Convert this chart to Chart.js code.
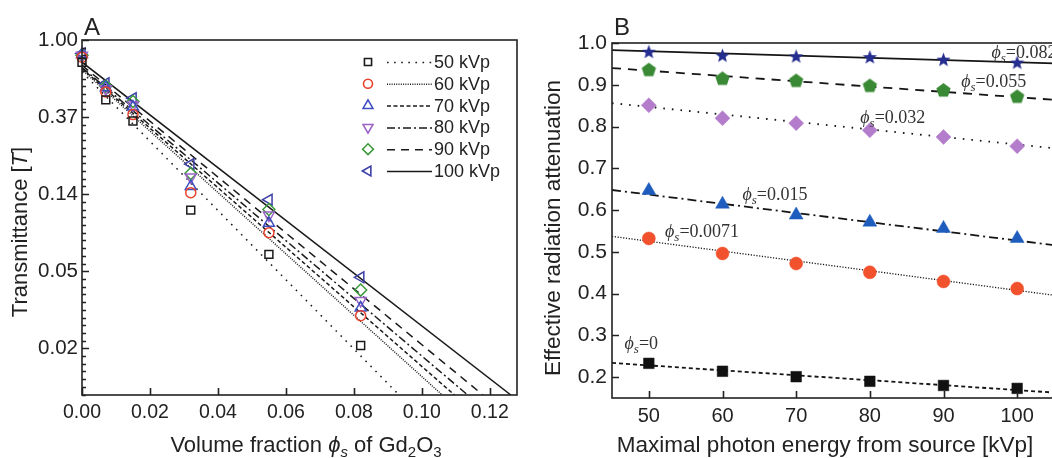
<!DOCTYPE html>
<html><head><meta charset="utf-8">
<script src="https://cdn.jsdelivr.net/npm/chart.js@4.4.1/dist/chart.umd.min.js"></script>
<style>
html,body{margin:0;padding:0;background:#fff;overflow:hidden;width:1052px;height:458px;}
#ca{position:absolute;left:0;top:0;}
#cb{position:absolute;left:525px;top:0;}
</style></head><body>
<canvas id="ca" width="530" height="458"></canvas>
<canvas id="cb" width="545" height="458"></canvas>
<script>
// ---------- Panel A data ----------
const phiA = [0, 0.007, 0.015, 0.032, 0.055, 0.082];
const kvpNames = ['50 kVp', '60 kVp', '70 kVp', '80 kVp', '90 kVp', '100 kVp'];
const tA50  = [0.75, 0.46, 0.35, 0.110, 0.062, 0.019];
const tA60  = [0.80, 0.51, 0.38, 0.138, 0.082, 0.028];
const tA70  = [0.83, 0.54, 0.42, 0.150, 0.093, 0.031];
const tA80  = [0.82, 0.53, 0.43, 0.169, 0.103, 0.034];
const tA90  = [0.82, 0.55, 0.45, 0.177, 0.111, 0.039];
const tA100 = [0.84, 0.57, 0.47, 0.200, 0.126, 0.046];
// fitted lines: T at phi = 0, and the phi at which they reach T = 0.01
const fitT0A = [0.66, 0.68, 0.69, 0.70, 0.72, 0.75];
const fitEndPhiA = [0.0933, 0.106, 0.1096, 0.1135, 0.118, 0.1262];
const fitEndTA = 0.01;
const xTicksA = [0, 0.02, 0.04, 0.06, 0.08, 0.10, 0.12];
const yTickLnA = [0, -1, -2, -3, -4];
const yTickLabelsA = ['1.00', '0.37', '0.14', '0.05', '0.02'];

// ---------- Panel B data ----------
const kvpB = [50, 60, 70, 80, 90, 100];
const phiNamesB = ['0', '0.0071', '0.015', '0.032', '0.055', '0.082'];
const attB0    = [0.233, 0.214, 0.201, 0.190, 0.180, 0.173];
const attB0071 = [0.532, 0.496, 0.472, 0.451, 0.429, 0.412];
const attB015  = [0.647, 0.614, 0.588, 0.571, 0.556, 0.532];
const attB032  = [0.851, 0.820, 0.808, 0.791, 0.775, 0.753];
const attB055  = [0.935, 0.914, 0.909, 0.897, 0.886, 0.871];
const attB082  = [0.978, 0.969, 0.967, 0.965, 0.959, 0.952];
const fitXB = [45, 105];
const fitB0    = [0.234, 0.163];
const fitB0071 = [0.537, 0.396];
const fitB015  = [0.648, 0.516];
const fitB032  = [0.856, 0.748];
const fitB055  = [0.940, 0.864];
const fitB082  = [0.983, 0.951];
const xTicksB = [50, 60, 70, 80, 90, 100];
const yTicksB = [0.2, 0.3, 0.4, 0.5, 0.6, 0.7, 0.8, 0.9, 1.0];

// ---------- helpers ----------
const SANS = "'Liberation Sans', Arial, Helvetica, sans-serif";
const SERIF = "'Liberation Serif', 'Times New Roman', 'DejaVu Serif', serif";
const INK = '#222';
Chart.defaults.font.family = SANS;
Chart.defaults.color = INK;

function richWidth(ctx, segs) {
  let w = 0;
  segs.forEach(s => { ctx.font = s.f; w += ctx.measureText(s.t).width; });
  return w;
}
function drawRich(ctx, segs, x, y) {
  segs.forEach(s => {
    ctx.font = s.f;
    ctx.fillText(s.t, x, y + (s.dy || 0));
    x += ctx.measureText(s.t).width;
  });
}
function drawRichCentered(ctx, segs, cx, cy, rot) {
  ctx.save();
  ctx.translate(cx, cy);
  if (rot) ctx.rotate(rot);
  const w = richWidth(ctx, segs);
  drawRich(ctx, segs, -w / 2, 0);
  ctx.restore();
}
function makeShape(n, outer, inner, color) {
  const s = Math.ceil(outer * 2 + 2);
  const c = document.createElement('canvas');
  c.width = s; c.height = s;
  const g = c.getContext('2d');
  g.fillStyle = color;
  g.beginPath();
  const pts = inner ? n * 2 : n;
  for (let k = 0; k < pts; k++) {
    const r = inner ? (k % 2 ? inner : outer) : outer;
    const a = -Math.PI / 2 + k * Math.PI * 2 / pts;
    g.lineTo(s / 2 + r * Math.cos(a), s / 2 + r * Math.sin(a));
  }
  g.closePath();
  g.fill();
  return c;
}

// frame + inward ticks + texts
function framePlugin(extra) {
  return {
    id: 'frame',
    afterDraw(chart) {
      const { ctx, chartArea: a, scales } = chart;
      ctx.save();
      ctx.strokeStyle = INK;
      ctx.lineWidth = 1.6;
      ctx.beginPath();
      scales.x.ticks.forEach(t => {
        const px = Math.round(scales.x.getPixelForValue(t.value)) + 0.5;
        ctx.moveTo(px, a.bottom); ctx.lineTo(px, a.bottom - 7);
      });
      scales.y.ticks.forEach(t => {
        const py = Math.round(scales.y.getPixelForValue(t.value)) + 0.5;
        ctx.moveTo(a.left, py); ctx.lineTo(a.left + 7, py);
      });
      ctx.stroke();
      ctx.strokeRect(a.left, a.top, a.right - a.left, a.bottom - a.top);
      ctx.restore();
      extra(chart, ctx, a, scales);
    }
  };
}

// ---------- Chart A ----------
const seriesA = [tA50, tA60, tA70, tA80, tA90, tA100];
const styleA = [
  { ps: 'rect', c: '#1a1a1a', r: 5.6, rot: 0 },
  { ps: 'circle', c: '#e8412c', r: 5, rot: 0 },
  { ps: 'triangle', c: '#3d4fc0', r: 6.3, rot: 0 },
  { ps: 'triangle', c: '#9b62c8', r: 6.3, rot: 180 },
  { ps: 'rectRot', c: '#3a9a3a', r: 6, rot: 0 },
  { ps: 'triangle', c: '#3b3fa6', r: 6.3, rot: 270 }
];
const dashA = [[1.6, 5.5], [1, 1.3], [4, 2.5], [8, 3, 2, 3], [8, 6], []];

const dsA = [];
seriesA.forEach((t, i) => {
  dsA.push({
    data: phiA.map((x, j) => ({ x: x, y: Math.log(t[j]) })),
    showLine: false, clip: false,
    pointStyle: styleA[i].ps, pointRotation: styleA[i].rot, pointRadius: styleA[i].r,
    pointBorderColor: styleA[i].c, pointBackgroundColor: 'rgba(0,0,0,0)', pointBorderWidth: 1.5
  });
});
seriesA.forEach((t, i) => {
  dsA.push({
    data: [{ x: 0, y: Math.log(fitT0A[i]) }, { x: fitEndPhiA[i], y: Math.log(fitEndTA) }],
    showLine: true, pointRadius: 0, borderColor: '#1a1a1a', borderWidth: 1.5,
    borderDash: dashA[i], borderCapStyle: 'butt', fill: false
  });
});

new Chart(document.getElementById('ca'), {
  type: 'scatter',
  data: { datasets: dsA },
  options: {
    responsive: false, animation: false, devicePixelRatio: 1,
    layout: { padding: { top: 40, right: 13, left: 0, bottom: 0 } },
    plugins: { legend: { display: false }, tooltip: { enabled: false } },
    scales: {
      x: {
        type: 'linear', min: 0, max: 0.128,
        afterBuildTicks: s => { s.ticks = xTicksA.map(v => ({ value: v })); },
        afterFit: s => { s.height = 63; },
        ticks: { callback: v => v.toFixed(2), font: { size: 19.5 }, color: INK, padding: 6, maxRotation: 0, autoSkip: false },
        grid: { display: false, drawTicks: false }, border: { display: false }
      },
      y: {
        type: 'linear', min: Math.log(0.01), max: 0,
        afterBuildTicks: s => { s.ticks = yTickLnA.map(v => ({ value: v })); },
        afterFit: s => { s.width = 82; },
        ticks: { callback: v => yTickLabelsA[yTickLnA.indexOf(v)], font: { size: 20.5 }, color: INK, padding: 4, autoSkip: false },
        grid: { display: false, drawTicks: false }, border: { display: false }
      }
    }
  },
  plugins: [framePlugin((chart, ctx, a, scales) => {
    // minor ticks on y
    ctx.save();
    ctx.strokeStyle = INK; ctx.lineWidth = 1.3;
    ctx.beginPath();
    for (let v = -46; v <= 0; v++) {
      if (v % 10 === 0) continue;
      const py = Math.round(scales.y.getPixelForValue(v / 10)) + 0.5;
      ctx.moveTo(a.left, py); ctx.lineTo(a.left + 4, py);
    }
    ctx.stroke();
    // legend
    const lx = 368, ly0 = 62, dy = 21.8;
    kvpNames.forEach((name, i) => {
      const y = ly0 + dy * i;
      ctx.strokeStyle = styleA[i].c; ctx.fillStyle = 'rgba(0,0,0,0)'; ctx.lineWidth = 1.6;
      Chart.helpers.drawPoint(ctx, { pointStyle: styleA[i].ps, rotation: styleA[i].rot, radius: styleA[i].r * 0.9, borderWidth: 1.6 }, lx, y);
      ctx.beginPath();
      ctx.strokeStyle = '#1a1a1a'; ctx.lineWidth = 1.5;
      ctx.setLineDash(dashA[i]);
      ctx.moveTo(387, y + 0.5); ctx.lineTo(432, y + 0.5);
      ctx.stroke();
      ctx.setLineDash([]);
      ctx.fillStyle = INK;
      ctx.font = '18px ' + SANS;
      ctx.textBaseline = 'middle';
      ctx.fillText(name, 434, y + 1);
    });
    ctx.textBaseline = 'alphabetic';
    ctx.fillStyle = INK;
    // panel letter
    ctx.font = '24px ' + SANS;
    ctx.fillText('A', 84, 35);
    // titles
    const f = '22px ' + SANS, fi = 'italic 22px ' + SANS, fs = '15px ' + SANS, fsi = 'italic 15px ' + SANS;
    ctx.textBaseline = 'middle';
    drawRichCentered(ctx, [{ t: 'Transmittance [', f: f }, { t: 'T', f: fi }, { t: ']', f: f }], 21, 232, -Math.PI / 2);
    ctx.textBaseline = 'alphabetic';
    drawRichCentered(ctx, [
      { t: 'Volume fraction ', f: f }, { t: 'ϕ', f: fi }, { t: 's', f: fsi, dy: 5 },
      { t: ' of Gd', f: f }, { t: '2', f: fs, dy: 5 }, { t: 'O', f: f }, { t: '3', f: fs, dy: 5 }
    ], 306, 452, 0);
    ctx.restore();
  })]
});

// ---------- Chart B ----------
const seriesB = [attB0, attB0071, attB015, attB032, attB055, attB082];
const fitsB = [fitB0, fitB0071, fitB015, fitB032, fitB055, fitB082];
const starImg = makeShape(5, 7.5, 3.2, '#252d8f');
const pentImg = makeShape(5, 7.5, 0, '#3a8a35');
const styleB = [
  { ps: 'rect', c: '#111111', r: 7.5 },
  { ps: 'circle', c: '#f2512e', r: 6.5 },
  { ps: 'triangle', c: '#1e5cbd', r: 8 },
  { ps: 'rectRot', c: '#b47dcc', r: 7.5 },
  { ps: pentImg, c: '#3a8a35', r: 7 },
  { ps: starImg, c: '#252d8f', r: 7 }
];
const dashB = [[4, 3], [1.2, 1.6], [9, 4, 2, 4], [1.6, 7], [9, 7], []];
const lwB = [1.8, 1.3, 1.8, 1.8, 1.8, 1.8];

const dsB = [];
seriesB.forEach((s, i) => {
  dsB.push({
    data: kvpB.map((x, j) => ({ x: x, y: s[j] })),
    showLine: false, clip: false,
    pointStyle: styleB[i].ps, pointRadius: styleB[i].r,
    pointBackgroundColor: styleB[i].c, pointBorderColor: styleB[i].c, pointBorderWidth: 0.5
  });
});
fitsB.forEach((f, i) => {
  dsB.push({
    data: fitXB.map((x, j) => ({ x: x, y: f[j] })),
    showLine: true, pointRadius: 0, borderColor: '#151515', borderWidth: lwB[i],
    borderDash: dashB[i], borderCapStyle: 'butt', fill: false
  });
});
// label anchor positions (data coordinates) for the phi_s annotations
const annPosB = [[46.7, 0.268], [52.2, 0.535], [62.7, 0.624], [78.7, 0.808], [92.4, 0.894], [96.5, 0.964]];

new Chart(document.getElementById('cb'), {
  type: 'scatter',
  data: { datasets: dsB },
  options: {
    responsive: false, animation: false, devicePixelRatio: 1,
    layout: { padding: { top: 43, right: 16, left: 0, bottom: 0 } },
    plugins: { legend: { display: false }, tooltip: { enabled: false } },
    scales: {
      x: {
        type: 'linear', min: 45, max: 105,
        afterBuildTicks: s => { s.ticks = xTicksB.map(v => ({ value: v })); },
        afterFit: s => { s.height = 60; },
        ticks: { callback: v => String(v), font: { size: 20 }, color: INK, padding: 6, maxRotation: 0, autoSkip: false },
        grid: { display: false, drawTicks: false }, border: { display: false }
      },
      y: {
        type: 'linear', min: 0.15, max: 1.0,
        afterBuildTicks: s => { s.ticks = yTicksB.map(v => ({ value: v })); },
        afterFit: s => { s.width = 87; },
        ticks: { callback: v => v.toFixed(1), font: { size: 21 }, color: INK, padding: 5, autoSkip: false },
        grid: { display: false, drawTicks: false }, border: { display: false }
      }
    }
  },
  plugins: [framePlugin((chart, ctx, a, scales) => {
    ctx.save();
    ctx.fillStyle = '#333';
    ctx.textBaseline = 'alphabetic';
    const f = '18px ' + SERIF, fi = 'italic 18px ' + SERIF, fsi = 'italic 13px ' + SERIF;
    phiNamesB.forEach((name, i) => {
      const px = scales.x.getPixelForValue(annPosB[i][0]);
      const py = scales.y.getPixelForValue(annPosB[i][1]);
      drawRich(ctx, [{ t: 'ϕ', f: fi }, { t: 's', f: fsi, dy: 4 }, { t: '=' + name, f: f }], px, py);
    });
    ctx.fillStyle = INK;
    ctx.font = '24px ' + SANS;
    ctx.fillText('B', 89, 35);
    const fs = '22.5px ' + SANS;
    ctx.textBaseline = 'middle';
    drawRichCentered(ctx, [{ t: 'Effective radiation attenuation', f: fs }], 29, 228, -Math.PI / 2);
    ctx.textBaseline = 'alphabetic';
    drawRichCentered(ctx, [{ t: 'Maximal photon energy from source [kVp]', f: fs }], 300, 452, 0);
    ctx.restore();
  })]
});
</script>
</body></html>
